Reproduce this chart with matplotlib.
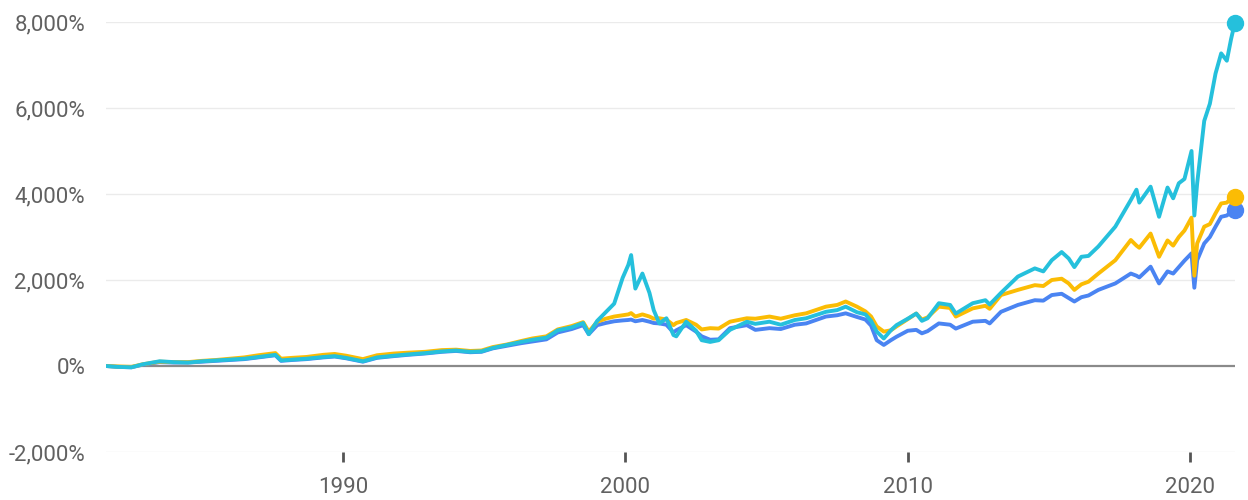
import matplotlib
matplotlib.use("Agg")
import matplotlib.pyplot as plt
from matplotlib.ticker import FuncFormatter

years = [1981.6, 1982.0, 1982.5, 1982.9, 1983.5, 1984.0, 1984.5, 1985.0, 1985.5, 1986.0,
         1986.5, 1987.0, 1987.6, 1987.8, 1988.2, 1988.7, 1989.3, 1989.7, 1990.1, 1990.7,
         1991.2, 1991.8, 1992.3, 1992.9, 1993.5, 1994.0, 1994.5, 1994.9, 1995.3, 1995.8,
         1996.3, 1996.7, 1997.2, 1997.6, 1998.1, 1998.5, 1998.7, 1999.0, 1999.3, 1999.6,
         1999.9, 2000.1, 2000.2, 2000.35, 2000.6, 2000.85, 2001.0, 2001.2, 2001.45, 2001.7,
         2001.8, 2002.15, 2002.5, 2002.7, 2003.0, 2003.3, 2003.7, 2004.3, 2004.6, 2005.1,
         2005.5, 2006.0, 2006.4, 2007.1, 2007.5, 2007.8, 2008.2, 2008.5, 2008.7, 2008.9,
         2009.15, 2009.4, 2009.6, 2010.0, 2010.3, 2010.5, 2010.7, 2011.1, 2011.5, 2011.7,
         2012.3, 2012.75, 2012.9, 2013.3, 2013.9, 2014.5, 2014.8, 2015.1, 2015.45, 2015.7,
         2015.9, 2016.15, 2016.4, 2016.75, 2017.35, 2017.9, 2018.1, 2018.2, 2018.6, 2018.9,
         2019.2, 2019.4, 2019.6, 2019.8, 2020.05, 2020.15, 2020.25, 2020.5, 2020.7, 2020.9,
         2021.1, 2021.3, 2021.45, 2021.58]

cyan = [0, -20, -30, 40, 110, 90, 80, 110, 130, 150,
        170, 210, 260, 130, 150, 170, 210, 230, 190, 110,
        200, 240, 270, 300, 340, 360, 330, 340, 420, 490,
        560, 610, 660, 830, 900, 1000, 740, 1050, 1250, 1450,
        2050, 2350, 2580, 1800, 2150, 1700, 1300, 990, 1110, 720,
        690, 1030, 820, 600, 560, 600, 840, 1030, 980, 1030,
        960, 1070, 1110, 1260, 1300, 1380, 1250, 1200, 1050, 800,
        640, 830, 950, 1100, 1220, 1050, 1110, 1460, 1420, 1220,
        1460, 1530, 1430, 1700, 2080, 2270, 2200, 2460, 2650, 2500,
        2300, 2540, 2560, 2780, 3240, 3860, 4100, 3800, 4170, 3470,
        4150, 3900, 4250, 4350, 5000, 3500, 4250, 5700, 6100, 6800,
        7270, 7100, 7600, 7970]

yellow = [0, -10, -20, 40, 100, 90, 90, 120, 140, 170,
          200, 250, 300, 170, 190, 210, 260, 280, 240, 160,
          250, 290, 310, 330, 370, 380, 350, 360, 440, 500,
          580, 640, 690, 850, 930, 1020, 800, 1030, 1100, 1150,
          1180, 1200, 1230, 1150, 1200, 1150, 1100, 1110, 1080, 950,
          1000, 1070, 960, 850, 880, 870, 1030, 1110, 1100, 1150,
          1100, 1180, 1225, 1380, 1420, 1500, 1380, 1270, 1150, 920,
          800, 830, 920, 1090, 1220, 1080, 1130, 1380, 1350, 1150,
          1340, 1400, 1330, 1650, 1770, 1880, 1860, 2000, 2030, 1920,
          1770, 1900, 1960, 2150, 2460, 2930, 2800, 2750, 3080, 2540,
          2920, 2800, 3000, 3150, 3450, 2100, 2850, 3240, 3300, 3550,
          3780, 3800, 3900, 3940]

blue = [0, -20, -30, 30, 90, 80, 80, 100, 120, 140,
        160, 200, 250, 120, 140, 160, 200, 220, 180, 100,
        190, 230, 260, 290, 330, 350, 320, 330, 410, 470,
        530, 570, 620, 780, 860, 950, 740, 950, 1000, 1040,
        1060, 1070, 1080, 1040, 1070, 1030, 1000, 990, 960, 780,
        830, 950, 800, 690, 610, 620, 880, 950, 840, 880,
        860, 960, 990, 1150, 1180, 1225, 1140, 1080, 940, 600,
        490, 600, 680, 820, 840, 760, 810, 990, 960, 870,
        1030, 1050, 990, 1260, 1420, 1530, 1520, 1650, 1680, 1580,
        1500, 1600, 1640, 1770, 1920, 2150, 2100, 2060, 2310, 1920,
        2200, 2150, 2300, 2450, 2620, 1820, 2460, 2850, 3000, 3240,
        3470, 3500, 3580, 3630]

series_colors = {"blue": "#4a84f2", "yellow": "#fbbc04", "cyan": "#25c0dc"}
y_ticks = [-2000, 0, 2000, 4000, 6000, 8000]
x_ticks = [1990, 2000, 2010, 2020]

plt.rcParams['font.family'] = ['Roboto', 'DejaVu Sans']

fig = plt.figure(figsize=(12.48, 5.0), dpi=100)
ax = fig.add_axes([106 / 1248, 48 / 500, (1235 - 106) / 1248, (452 - 22) / 500])

ax.set_xlim(1981.6, 2021.59)
ax.set_ylim(-2000, 8000)

for v in y_ticks:
    if v == 0:
        continue
    ax.axhline(v, color="#ebebeb", lw=1.0, zorder=0)
ax.axhline(0, color="#8a8a8a", lw=1.6, zorder=1)

for name, vals in (("blue", blue), ("yellow", yellow), ("cyan", cyan)):
    ax.plot(years, vals, color=series_colors[name], lw=2.8, zorder=3,
            solid_joinstyle="round", solid_capstyle="round")
    ax.plot([years[-1]], [vals[-1]], "o", color=series_colors[name], ms=11.5,
            zorder=4, clip_on=False)

for s in ax.spines.values():
    s.set_visible(False)

ax.set_yticks(y_ticks)
ax.yaxis.set_major_formatter(FuncFormatter(lambda v, p: f"{int(v):,}%"))
ax.tick_params(axis="y", length=0, pad=15, labelsize=16, labelcolor="#616161")
ax.set_xticks(x_ticks)
ax.set_xticklabels([str(x) for x in x_ticks])
ax.tick_params(axis="x", length=7, width=2, color="#555555", pad=11,
               labelsize=16, labelcolor="#616161")

fig.savefig("out.png", dpi=100, facecolor="white")
